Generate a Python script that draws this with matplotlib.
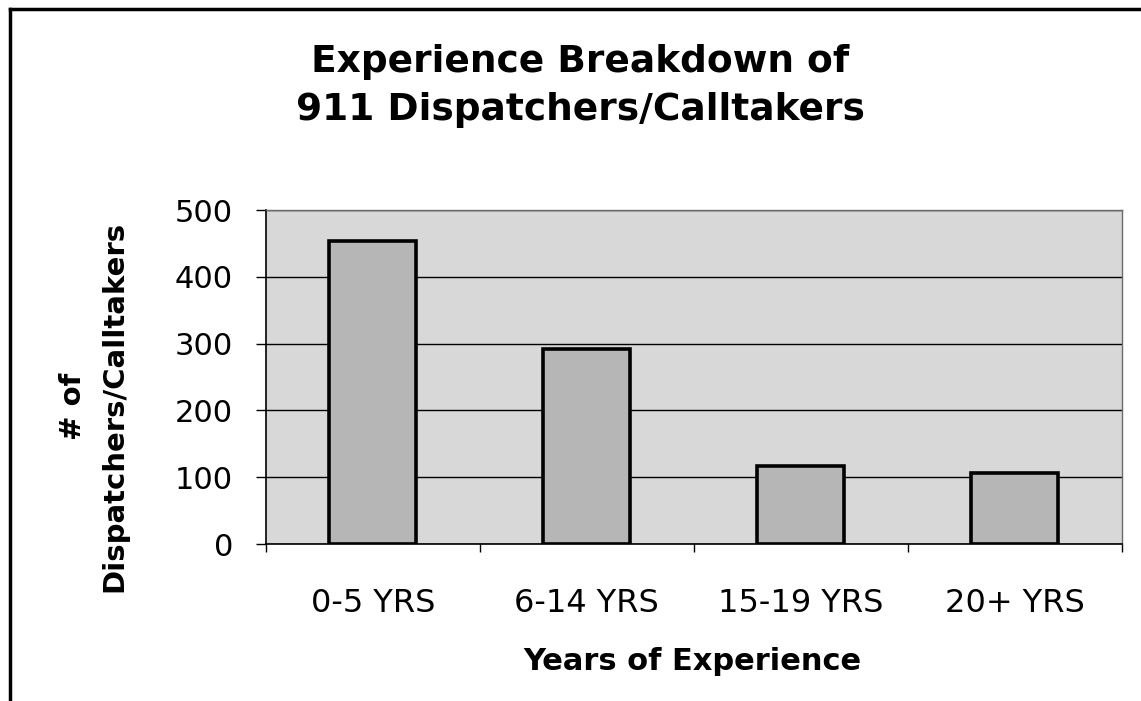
import matplotlib
matplotlib.use("Agg")
import matplotlib.pyplot as plt
import numpy as np
from matplotlib.lines import Line2D

# data
categories = ['0-5 YRS', '6-14 YRS', '15-19 YRS', '20+ YRS']
counts = [454, 292, 117, 106]
yticks = [0, 100, 200, 300, 400, 500]

titleName = 'Experience Breakdown of\n911 Dispatchers/Calltakers'
xLabel = 'Years of Experience'
yLabel = '# of\nDispatchers/Calltakers'

plt.rcParams["font.family"] = "DejaVu Sans"

W, H = 1141, 701
fig = plt.figure(figsize=(W / 100, H / 100), dpi=100)
fig.patch.set_facecolor('white')

# plot area, in pixel coords of the reference
left, right, top, bottom = 265.7, 1121.7, 210, 544
ax = fig.add_axes([left / W, 1 - bottom / H, (right - left) / W, (bottom - top) / H])
ax.set_facecolor('#d8d8d8')

x = np.arange(len(categories))
ax.bar(x, counts, width=0.405, color='#b6b6b6', edgecolor='black', linewidth=2.6, zorder=3)

ax.set_xlim(-0.5, len(categories) - 0.5)
ax.set_ylim(0, 500)
ax.set_yticks(yticks)
ax.set_yticklabels([str(v) for v in yticks], fontsize=22)
ax.yaxis.grid(True, color='black', linewidth=1.0, zorder=1)
ax.set_axisbelow(True)

# category labels centred, ticks on category boundaries
ax.set_xticks(x)
ax.set_xticklabels(categories, fontsize=23)
ax.set_xticks(np.arange(-0.5, len(categories), 1.0), minor=True)
ax.tick_params(axis='x', which='major', length=0, pad=32)
ax.tick_params(axis='x', which='minor', length=6, width=1, color='black')
ax.tick_params(axis='y', length=7.5, width=1, color='black', pad=16)

for s in ['left', 'bottom']:
    ax.spines[s].set_color('black')
    ax.spines[s].set_linewidth(1.2)
for s in ['top', 'right']:
    ax.spines[s].set_color('#6a6a6a')
    ax.spines[s].set_linewidth(1.0)

# titles placed in figure coords
fig.text(580 / W, 1 - 86 / H, titleName, ha='center', va='center',
         fontsize=27, fontweight='bold', linespacing=1.4)
fig.text(692 / W, 1 - 661 / H, xLabel, ha='center', va='center',
         fontsize=22, fontweight='bold')
fig.text(94 / W, 1 - 406 / H, yLabel, ha='center', va='center', rotation=90,
         fontsize=21, fontweight='bold', linespacing=1.6)

# outer frame (left and top edges visible in the scan)
fig.add_artist(Line2D([10 / W, 10 / W], [0, 1 - 9 / H], color='black', linewidth=2.5))
fig.add_artist(Line2D([10 / W, 1], [1 - 9 / H, 1 - 9 / H], color='black', linewidth=2.5))

plt.savefig('out.png', dpi=100)
